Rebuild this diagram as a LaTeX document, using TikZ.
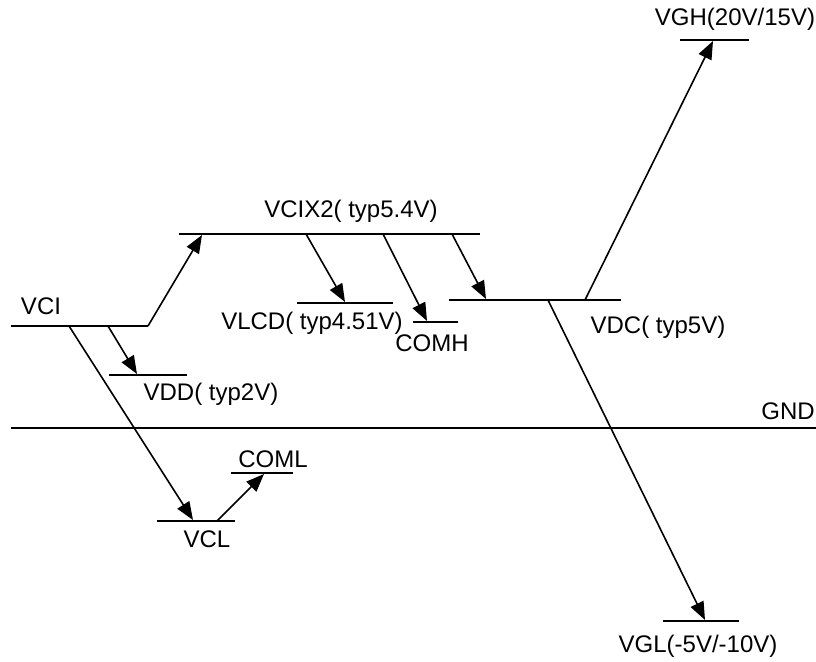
\documentclass[tikz,border=0pt]{standalone}
\usepackage{fontspec}
\setmainfont{Liberation Sans}
\usetikzlibrary{arrows.meta}
\begin{document}
\begin{tikzpicture}[x=1pt,y=-1pt,
  level/.style={line width=2pt},
  arr/.style={line width=1.6pt,-{Triangle[length=18pt,width=14pt]}},
  lbl/.style={font=\fontsize{24pt}{27pt}\selectfont,inner sep=0pt,anchor=center}]
\useasboundingbox (0,0) rectangle (816,661);
% level lines
\coordinate (vciL) at (11,326);   \coordinate (vciR) at (148,326);
\coordinate (vcxL) at (179,234);  \coordinate (vcxR) at (480,234);
\coordinate (vddL) at (109,375);  \coordinate (vddR) at (187,375);
\coordinate (vlcdL) at (297,303); \coordinate (vlcdR) at (393,303);
\coordinate (comhL) at (413,322); \coordinate (comhR) at (458,322);
\coordinate (vdcL) at (449,300);  \coordinate (vdcR) at (621,300);
\coordinate (vghL) at (680,40);   \coordinate (vghR) at (749,40);
\coordinate (gndL) at (11,428);   \coordinate (gndR) at (816,428);
\coordinate (vclL) at (157,521);  \coordinate (vclR) at (235,521);
\coordinate (comlL) at (231,473); \coordinate (comlR) at (293,473);
\coordinate (vglL) at (663,621);  \coordinate (vglR) at (739,621);
\foreach \a/\b in {vciL/vciR,vcxL/vcxR,vddL/vddR,vlcdL/vlcdR,comhL/comhR,vdcL/vdcR,vghL/vghR,gndL/gndR,vclL/vclR,comlL/comlR,vglL/vglR}
  \draw[level] (\a) -- (\b);
% arrow endpoints
\coordinate (s1) at (108,326); \coordinate (t1) at (137,374);
\coordinate (s2) at (69,326);  \coordinate (t2) at (193,520);
\coordinate (t0) at (202,235);
\coordinate (s3) at (217,521); \coordinate (t3) at (264,474);
\coordinate (s4) at (306,234); \coordinate (t4) at (345,302);
\coordinate (s5) at (383,234); \coordinate (t5) at (427,321);
\coordinate (s6) at (452,234); \coordinate (t6) at (486,299);
\coordinate (s7) at (585,300); \coordinate (t7) at (713,41);
\coordinate (s8) at (548,300); \coordinate (t8) at (705,620);
\draw[arr] (vciR) -- (t0);
\draw[arr] (s1) -- (t1);
\draw[arr] (s2) -- (t2);
\draw[arr] (s3) -- (t3);
\draw[arr] (s4) -- (t4);
\draw[arr] (s5) -- (t5);
\draw[arr] (s6) -- (t6);
\draw[arr] (s7) -- (t7);
\draw[arr] (s8) -- (t8);
% labels
\node[lbl] (lvci) at (41,306) {VCI};
\node[lbl] (lvcx) at (351,211) {VCIX2( typ5.4V)};
\node[lbl] (lvdd) at (211,394) {VDD( typ2V)};
\node[lbl] (lvlcd) at (312,323) {VLCD( typ4.51V)};
\node[lbl] (lcomh) at (432,343) {COMH};
\node[lbl] (lvdc) at (658,327) {VDC( typ5V)};
\node[lbl] (lvgh) at (735,19) {VGH(20V/15V)};
\node[lbl] (lgnd) at (788,411) {GND};
\node[lbl] (lcoml) at (273,459) {COML};
\node[lbl] (lvcl) at (207,539) {VCL};
\node[lbl] (lvgl) at (698,646) {VGL(-5V/-10V)};
\end{tikzpicture}
\end{document}
